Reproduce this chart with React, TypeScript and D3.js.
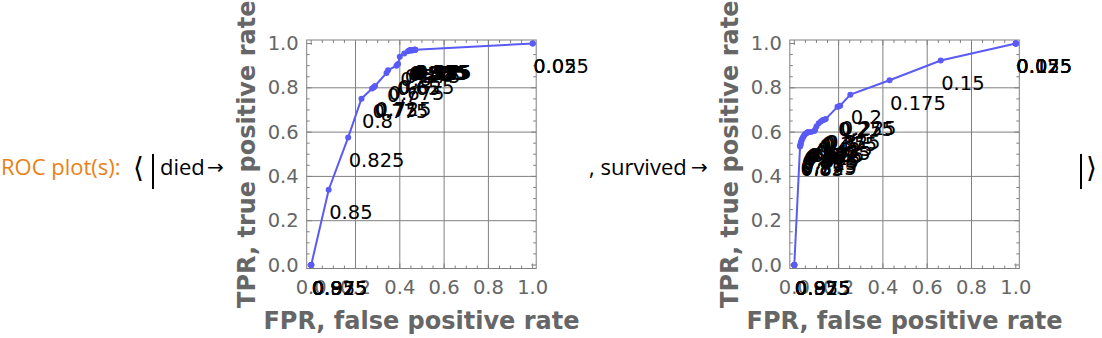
import React from "react";
import * as d3 from "d3";

// ---------- data ----------
const DIED_THRESHOLDS = [0.975, 0.95, 0.925, 0.9, 0.875, 0.85, 0.825, 0.8, 0.775, 0.75, 0.725, 0.7, 0.675, 0.65, 0.625, 0.6, 0.575, 0.55, 0.525, 0.5, 0.475, 0.45, 0.425, 0.4, 0.375, 0.35, 0.325, 0.3, 0.275, 0.25, 0.225, 0.2, 0.175, 0.15, 0.125, 0.1, 0.075, 0.05, 0.025];
const DIED_FPR = [0, 0, 0, 0, 0, 0.079, 0.167, 0.227, 0.275, 0.283, 0.288, 0.34, 0.347, 0.385, 0.392, 0.4, 0.42, 0.437, 0.443, 0.446, 0.448, 0.45, 0.452, 0.454, 0.456, 0.458, 0.46, 0.461, 0.462, 0.463, 0.464, 0.465, 0.466, 0.467, 0.468, 0.469, 0.47, 1, 1];
const DIED_TPR = [0, 0, 0, 0, 0, 0.34, 0.576, 0.751, 0.797, 0.803, 0.808, 0.867, 0.879, 0.9, 0.907, 0.94, 0.955, 0.965, 0.968, 0.969, 0.97, 0.97, 0.97, 0.97, 0.97, 0.97, 0.97, 0.971, 0.971, 0.971, 0.971, 0.971, 0.972, 0.972, 0.972, 0.972, 0.972, 1, 1];

const SURV_THRESHOLDS = [0.975, 0.95, 0.925, 0.9, 0.875, 0.85, 0.825, 0.8, 0.775, 0.75, 0.725, 0.7, 0.675, 0.65, 0.625, 0.6, 0.575, 0.55, 0.525, 0.5, 0.475, 0.45, 0.425, 0.4, 0.375, 0.35, 0.325, 0.3, 0.275, 0.25, 0.225, 0.2, 0.175, 0.15, 0.125, 0.1, 0.075, 0.05, 0.025];
const SURV_FPR = [0, 0, 0, 0, 0, 0.026, 0.027, 0.028, 0.029, 0.03, 0.032, 0.034, 0.037, 0.04, 0.044, 0.048, 0.053, 0.058, 0.062, 0.075, 0.09, 0.094, 0.1, 0.11, 0.12, 0.127, 0.135, 0.142, 0.195, 0.2, 0.207, 0.253, 0.43, 0.661, 1, 1, 1, 1, 1];
const SURV_TPR = [0, 0, 0, 0, 0, 0.535, 0.54, 0.543, 0.548, 0.553, 0.56, 0.566, 0.572, 0.578, 0.585, 0.59, 0.594, 0.597, 0.6, 0.6, 0.605, 0.611, 0.625, 0.64, 0.648, 0.653, 0.656, 0.659, 0.714, 0.716, 0.719, 0.769, 0.834, 0.923, 1, 1, 1, 1, 1];

const TICKS = [0, 0.2, 0.4, 0.6, 0.8, 1.0];
const GRID = [0.2, 0.4, 0.6, 0.8];
const MINOR = [0.05, 0.1, 0.15, 0.25, 0.3, 0.35, 0.45, 0.5, 0.55, 0.65, 0.7, 0.75, 0.85, 0.9, 0.95];

const X_LABEL = "FPR, false positive rate";
const Y_LABEL = "TPR, true positive rate";

const GRAY = "#808080";
const LABEL_GRAY = "#666666";
const BLUE = "#5a5af5";
const ORANGE = "#ec7f14";

type PanelProps = {
  x0: number; // pixel of FPR = 0
  thresholds: number[];
  fpr: number[];
  tpr: number[];
};

function Panel({ x0, thresholds, fpr, tpr }: PanelProps) {
  const x = d3.scaleLinear().domain([0, 1]).range([x0, x0 + 221.5]);
  const y = d3.scaleLinear().domain([0, 1]).range([265, 43.5]);
  const fl = x(0) - 4.5;
  const fr = x(1) + 3.5;
  const ft = y(1) - 3.5;
  const fb = y(0) + 3.5;
  const pts: [number, number][] = fpr.map((f, i) => [f, tpr[i]]);
  const line = d3
    .line<[number, number]>()
    .x((d) => x(d[0]))
    .y((d) => y(d[1]));
  const fmt = (v: number) => v.toFixed(1);
  return (
    <g>
      {/* grid */}
      {GRID.map((g) => (
        <line key={"gx" + g} x1={x(g)} x2={x(g)} y1={ft} y2={fb} stroke={GRAY} strokeWidth={1} />
      ))}
      {GRID.map((g) => (
        <line key={"gy" + g} x1={fl} x2={fr} y1={y(g)} y2={y(g)} stroke={GRAY} strokeWidth={1} />
      ))}
      {/* ticks */}
      {TICKS.map((t) => (
        <g key={"t" + t}>
          <line x1={x(t)} x2={x(t)} y1={fb} y2={fb - 5} stroke={GRAY} />
          <line x1={x(t)} x2={x(t)} y1={ft} y2={ft + 5} stroke={GRAY} />
          <line x1={fl} x2={fl + 5} y1={y(t)} y2={y(t)} stroke={GRAY} />
          <line x1={fr} x2={fr - 5} y1={y(t)} y2={y(t)} stroke={GRAY} />
        </g>
      ))}
      {MINOR.map((t) => (
        <g key={"m" + t}>
          <line x1={x(t)} x2={x(t)} y1={fb} y2={fb - 3} stroke={GRAY} />
          <line x1={x(t)} x2={x(t)} y1={ft} y2={ft + 3} stroke={GRAY} />
          <line x1={fl} x2={fl + 3} y1={y(t)} y2={y(t)} stroke={GRAY} />
          <line x1={fr} x2={fr - 3} y1={y(t)} y2={y(t)} stroke={GRAY} />
        </g>
      ))}
      <rect x={fl} y={ft} width={fr - fl} height={fb - ft} fill="none" stroke={GRAY} strokeWidth={1} />
      {/* tick labels */}
      {TICKS.map((t) => (
        <text key={"xl" + t} x={x(t)} y={287} textAnchor="middle" dominantBaseline="central"
          fontFamily="DejaVu Sans" fontSize={19.5} fill={LABEL_GRAY}>{fmt(t)}</text>
      ))}
      {TICKS.map((t) => (
        <text key={"yl" + t} x={fl - 8} y={y(t)} textAnchor="end" dominantBaseline="central"
          fontFamily="DejaVu Sans" fontSize={19.5} fill={LABEL_GRAY}>{fmt(t)}</text>
      ))}
      {/* axis labels */}
      <text x={(fl + fr) / 2} y={321} textAnchor="middle" dominantBaseline="central"
        fontFamily="DejaVu Sans" fontWeight="bold" fontSize={24} fill={LABEL_GRAY}>{X_LABEL}</text>
      <text transform={`translate(${fl - 60},${(ft + fb) / 2}) rotate(-90)`} textAnchor="middle" dominantBaseline="central"
        fontFamily="DejaVu Sans" fontWeight="bold" fontSize={24} fill={LABEL_GRAY}>{Y_LABEL}</text>
      {/* ROC line */}
      <path d={line(pts) || ""} fill="none" stroke={BLUE} strokeWidth={2} />
      {pts.map((p, i) => (
        <circle key={"p" + i} cx={x(p[0])} cy={y(p[1])} r={3} fill={BLUE} />
      ))}
      {/* threshold labels */}
      {pts.map((p, i) => (
        <text key={"l" + i} x={x(p[0]) + 0.5} y={y(p[1]) + 23} dominantBaseline="central"
          fontFamily="DejaVu Sans" fontSize={19.5} fill="#000">{String(thresholds[i])}</text>
      ))}
    </g>
  );
}

export default function App() {
  const txt = { fontFamily: "Open Sans", fontSize: 22 } as const;
  const sym = { fontFamily: "DejaVu Sans", fontSize: 20 } as const;
  const bracket = { fontFamily: "DejaVu Sans", fontSize: 28 } as const;
  return (
    <svg width={1102} height={338} style={{ position: "absolute", left: 0, top: 0, background: "#fff" }}>
      <text x={1} y={175} {...txt} fill={ORANGE}>ROC plot(s):</text>
      <text x={133} y={177} {...bracket} fill="#000">⟨</text>
      <line x1={153} x2={153} y1={154} y2={189} stroke="#000" strokeWidth={2} />
      <text x={160} y={175} {...txt} fill="#000">died</text>
      <text x={207} y={174} {...sym} fill="#000">→</text>
      <text x={589} y={175} {...txt} fill="#000">, survived</text>
      <text x={691} y={174} {...sym} fill="#000">→</text>
      <Panel x0={311.2} thresholds={DIED_THRESHOLDS} fpr={DIED_FPR} tpr={DIED_TPR} />
      <Panel x0={794.3} thresholds={SURV_THRESHOLDS} fpr={SURV_FPR} tpr={SURV_TPR} />
      <line x1={1081} x2={1081} y1={154} y2={189} stroke="#000" strokeWidth={2} />
      <text x={1086} y={177} {...bracket} fill="#000">⟩</text>
    </svg>
  );
}
